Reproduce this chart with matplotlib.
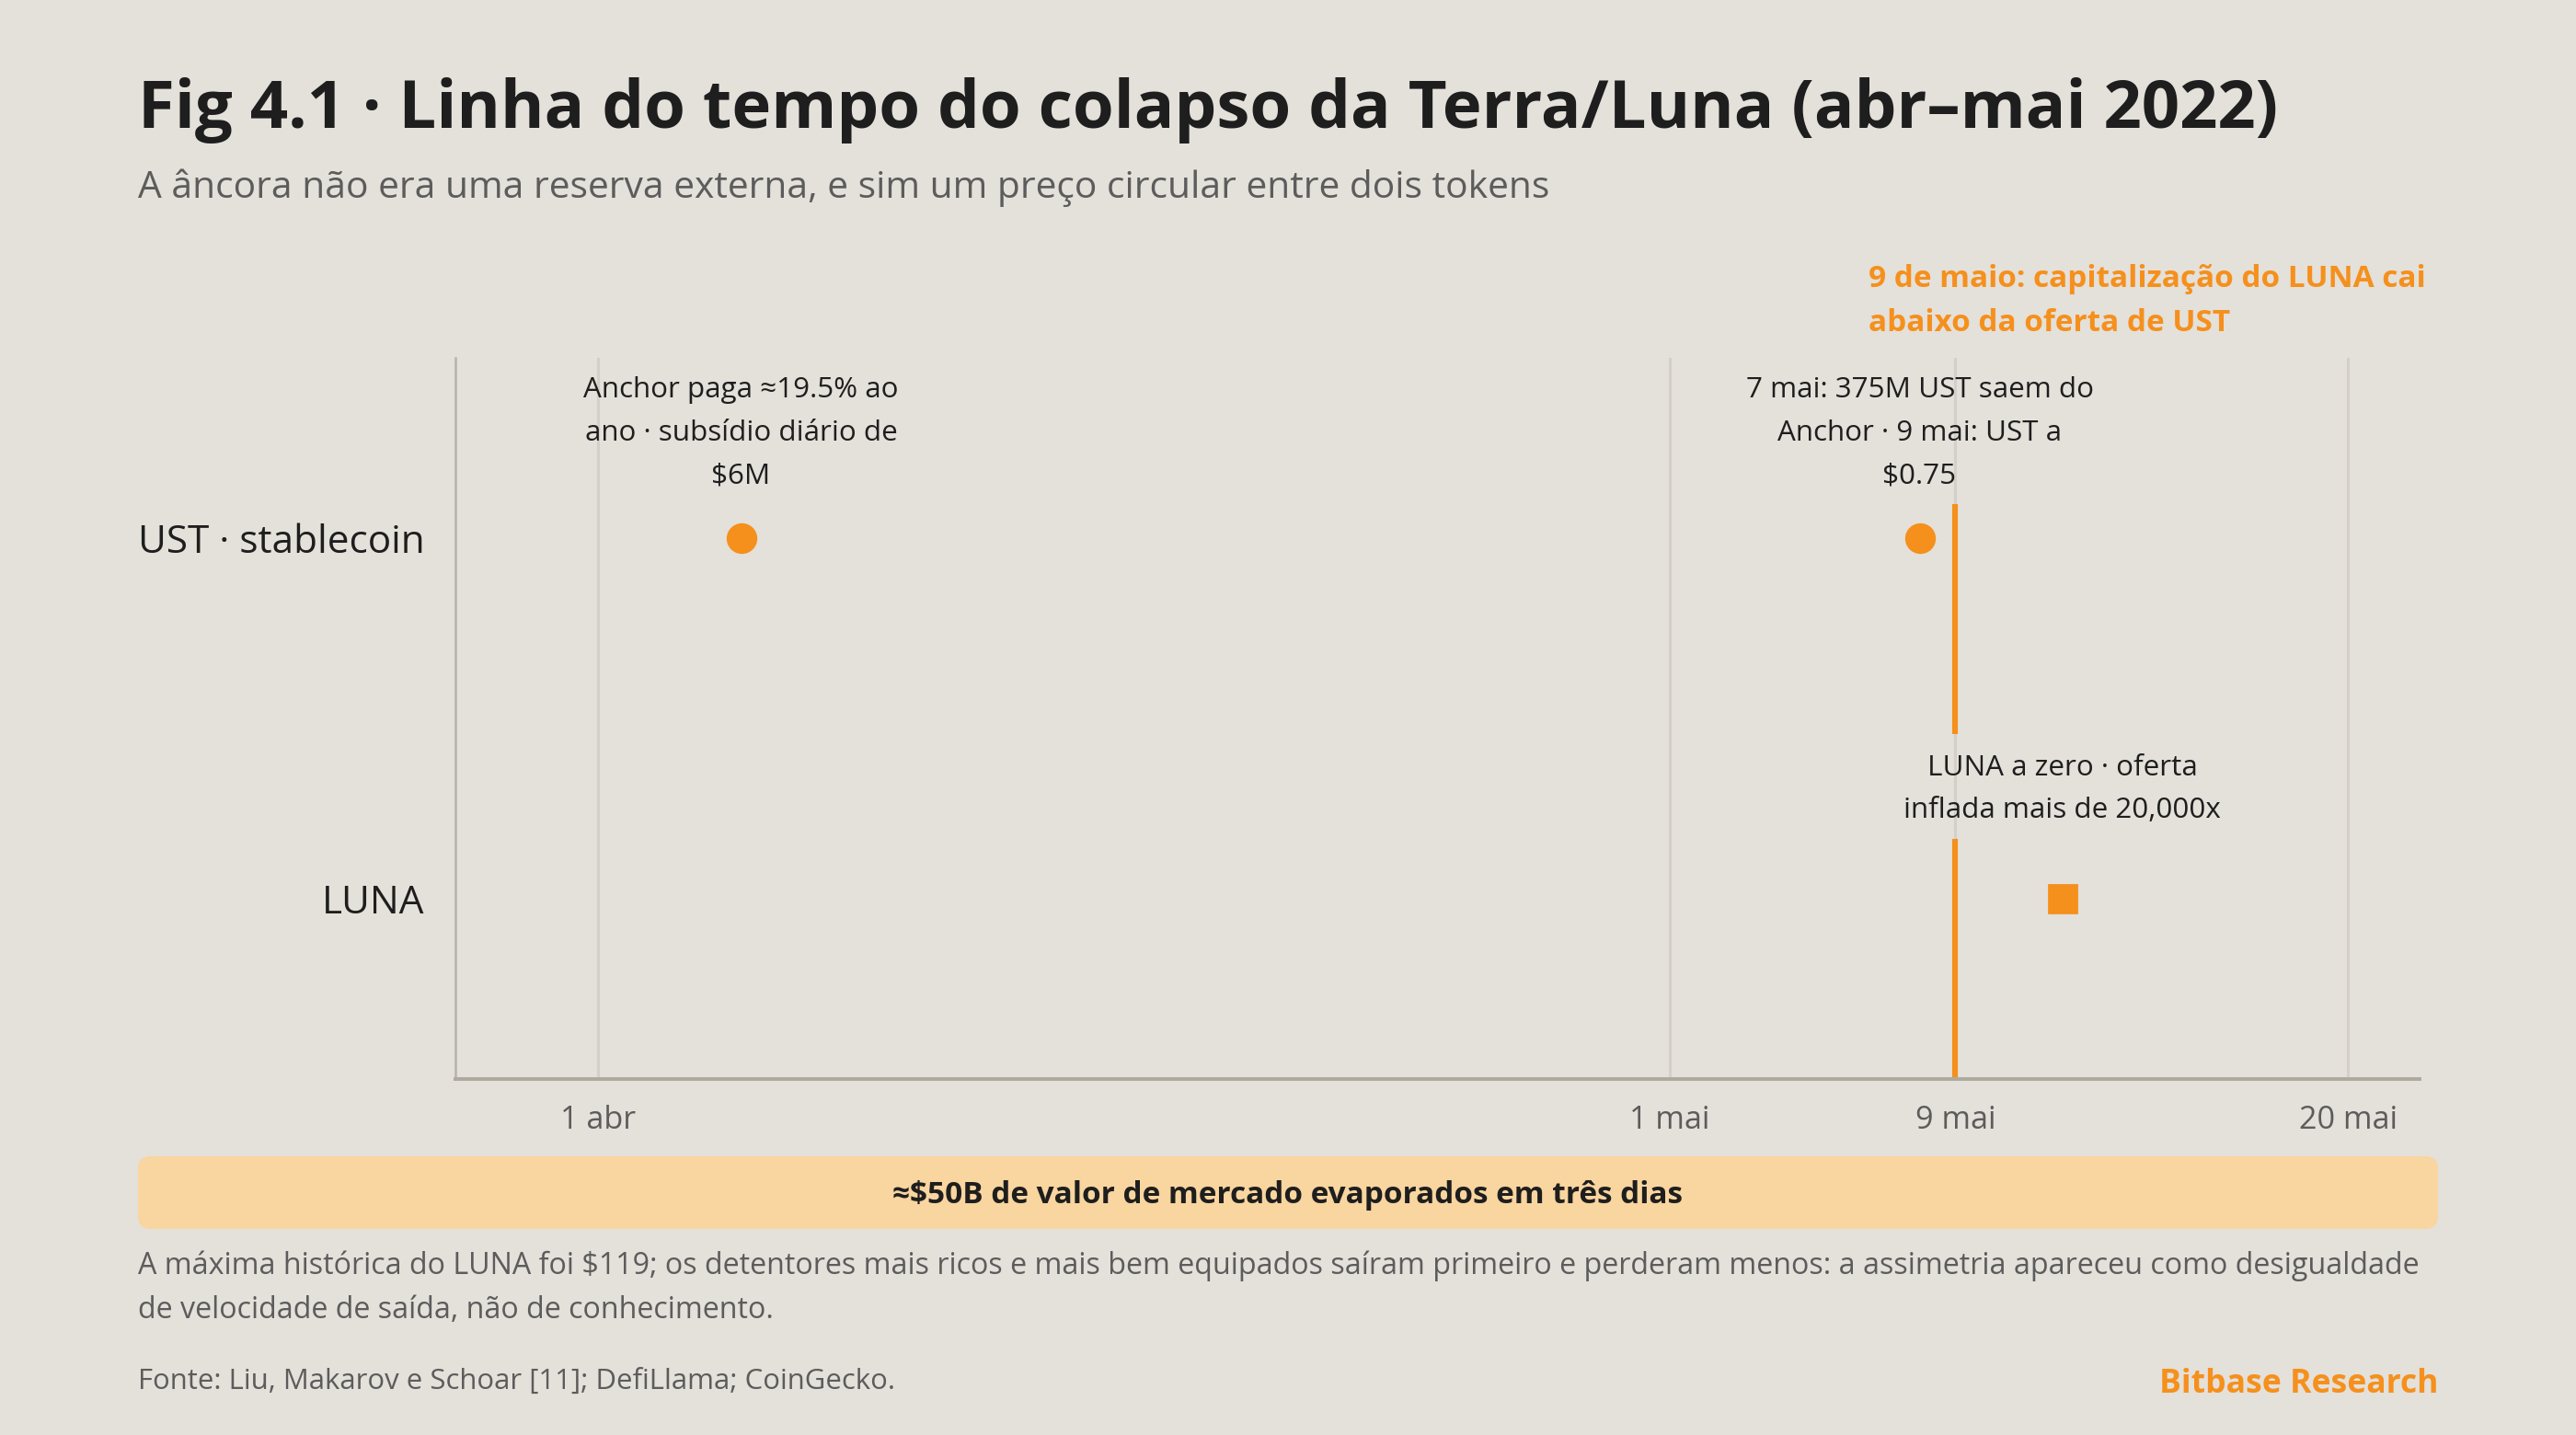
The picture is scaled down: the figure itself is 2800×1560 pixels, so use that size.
import datetime as dt
import matplotlib
matplotlib.use('Agg')
import matplotlib.pyplot as plt
import matplotlib.dates as mdates
from matplotlib.patches import FancyBboxPatch

plt.rcParams['font.family'] = ['Open Sans', 'DejaVu Sans']

BG = '#E4E0DA'
ORANGE = '#F5901C'
DARK = '#1E1E1E'
GREY = '#5C5C5C'

# data
rows = ['LUNA', 'UST · stablecoin']
tick_dates = [dt.date(2022, 4, 1), dt.date(2022, 5, 1), dt.date(2022, 5, 9), dt.date(2022, 5, 20)]
tick_labels = ['1 abr', '1 mai', '9 mai', '20 mai']
ust_dates = [dt.date(2022, 4, 5), dt.date(2022, 5, 8)]
ust_notes = ['Anchor paga ≈19.5% ao\nano · subsídio diário de\n$6M',
             '7 mai: 375M UST saem do\nAnchor · 9 mai: UST a\n$0.75']
luna_dates = [dt.date(2022, 5, 12)]
luna_notes = ['LUNA a zero · oferta\ninflada mais de 20,000x']
depeg_date = dt.date(2022, 5, 9)
depeg_note = '9 de maio: capitalização do LUNA cai\nabaixo da oferta de UST'
x_range = [dt.date(2022, 3, 28), dt.date(2022, 5, 22)]

title = 'Fig 4.1 · Linha do tempo do colapso da Terra/Luna (abr–mai 2022)'
subtitle = 'A âncora não era uma reserva externa, e sim um preço circular entre dois tokens'
banner = '≈$50B de valor de mercado evaporados em três dias'
note = ('A máxima histórica do LUNA foi $119; os detentores mais ricos e mais bem equipados saíram primeiro e perderam menos: a assimetria apareceu como desigualdade\n'
        'de velocidade de saída, não de conhecimento.')
source = 'Fonte: Liu, Makarov e Schoar [11]; DefiLlama; CoinGecko.'
brand = 'Bitbase Research'

W, H = 2800, 1560
fig = plt.figure(figsize=(14, 7.8), dpi=200, facecolor=BG)
ax = fig.add_axes([495 / W, 1 - 1173 / H, (2630 - 495) / W, (1173 - 389) / H], facecolor=BG)

ax.set_xlim(x_range)
ax.set_ylim(-0.5, 1.5)
ax.set_xticks(tick_dates)
ax.set_xticklabels(tick_labels)
ax.set_yticks([0, 1])
ax.set_yticklabels(rows)
ax.tick_params(axis='x', length=0, pad=10, labelsize=12.3, labelcolor=GREY)
ax.tick_params(axis='y', length=0, pad=12, labelsize=15.2, labelcolor=DARK)
ax.grid(axis='x', color='#D4CFC8', lw=1.1, zorder=0)
ax.grid(axis='y', visible=False)
for s in ['top', 'right']:
    ax.spines[s].set_visible(False)
ax.spines['left'].set_color('#B8B3AA')
ax.spines['left'].set_linewidth(0.9)
ax.spines['bottom'].set_color('#AEAA9E')
ax.spines['bottom'].set_linewidth(1.4)

# 9 May line, broken around the LUNA note
ax.vlines(depeg_date, -0.5, 0.165, color=ORANGE, lw=2.2, zorder=2)
ax.vlines(depeg_date, 0.457, 1.095, color=ORANGE, lw=2.2, zorder=2)

ax.plot(ust_dates, [1] * len(ust_dates), 'o', ms=11, color=ORANGE, zorder=3, clip_on=False)
ax.plot(luna_dates, [0] * len(luna_dates), 's', ms=11, color=ORANGE, zorder=3, clip_on=False)

for d, t in zip(ust_dates, ust_notes):
    ax.annotate(t, xy=(d, 1), xytext=(0, 19), textcoords='offset points', ha='center', va='bottom',
                fontsize=11.3, color=DARK, linespacing=1.72)
for d, t in zip(luna_dates, luna_notes):
    ax.annotate(t, xy=(d, 0), xytext=(0, 29), textcoords='offset points', ha='center', va='bottom',
                fontsize=11.3, color=DARK, linespacing=1.72)

ax.annotate(depeg_note, xy=(mdates.date2num(depeg_date), 1.0), xycoords=('data', 'axes fraction'),
            xytext=(-34, 7.5), textcoords='offset points', ha='left', va='bottom',
            fontsize=12, fontweight='bold', color=ORANGE, linespacing=1.6)

fig.text(150 / W, 1 - 120 / H, title, fontsize=26.1, fontweight='bold', color=DARK, va='center')
fig.text(150 / W, 1 - 204 / H, subtitle, fontsize=14.7, color=GREY, va='center')

box = FancyBboxPatch((150, H - 1336), 2500, 79, boxstyle='round,pad=0,rounding_size=14',
                     facecolor='#F9D59F', edgecolor='none', transform=None)
fig.add_artist(box)
fig.text(0.5, 1 - 1299 / H, banner, fontsize=12, fontweight='bold', color=DARK, ha='center', va='center')

fig.text(150 / W, 1 - 1400 / H, note, fontsize=11.6, color=GREY, va='center', linespacing=1.6)
fig.text(150 / W, 1 - 1502 / H, source, fontsize=11.2, color=GREY, va='center')
fig.text(2650 / W, 1 - 1505 / H, brand, fontsize=12.8, fontweight='bold', color=ORANGE, ha='right', va='center')

fig.savefig('out.png', dpi=200, facecolor=BG)
